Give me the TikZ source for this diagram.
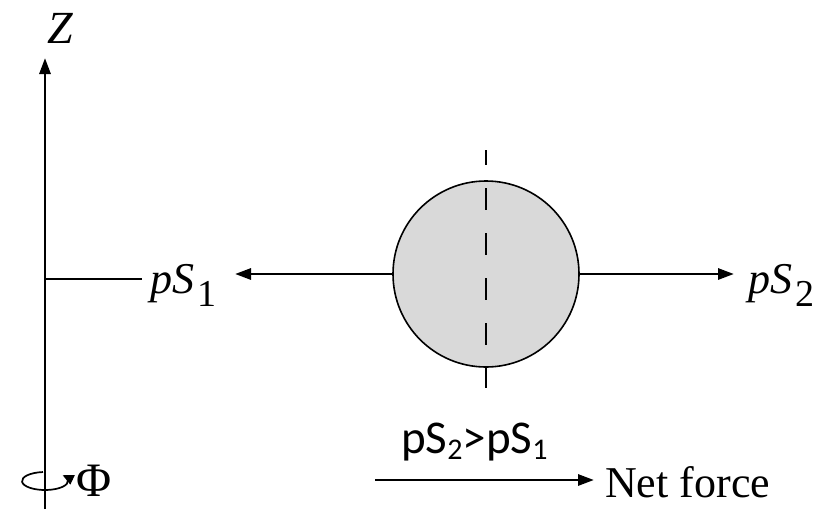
\documentclass[tikz,border=0pt]{standalone}
\usepackage{fontspec}
\setmainfont{Liberation Serif}
\newfontfamily\calib{Carlito}
\usetikzlibrary{arrows.meta}
\tikzset{
  vec/.style={line width=2.9pt,-{Stealth[length=16pt,width=11pt,inset=0pt]}},
  lbl/.style={inner sep=0pt,font=\fontsize{44}{50}\selectfont},
}
\newcommand{\subsc}[1]{\kern3pt{\fontsize{38}{40}\selectfont\raisebox{-13pt}{#1}}}
\newcommand{\csub}[1]{{\fontsize{30}{32}\selectfont\raisebox{-0.22em}{#1}}}
\begin{document}
\begin{tikzpicture}[x=1pt,y=-1pt]
\useasboundingbox (0,0) rectangle (824,509);
% axis
\coordinate (zb) at (45,509);
\coordinate (zt) at (45,58);
\draw[vec] (zb) -- (zt);
\node[lbl,font=\fontsize{46}{50}\selectfont\itshape] (Z) at (60,28) {Z};
% horizontal line to pS1
\coordinate (h0) at (45,279);
\coordinate (h1) at (142,279);
\draw[line width=2.9pt] (h0) -- (h1);
\node[lbl,anchor=base west] (p1) at (150,293) {\textit{pS}\subsc{1}};
% ball
\node[circle,draw,line width=1.6pt,fill=black!15,minimum size=186pt,inner sep=0pt] (ball) at (486,274) {};
\coordinate (dt) at (486,150);
\coordinate (db) at (486,388);
\draw[line width=2.8pt,dash pattern=on 22pt off 23pt,dash phase=7pt] (dt) -- (db);
% force arrows
\coordinate (l1) at (235,274);
\coordinate (r1) at (734,274);
\draw[vec] (ball.west) -- (l1);
\draw[vec] (ball.east) -- (r1);
\node[lbl,anchor=base west] (p2) at (748,293) {\textit{pS}\subsc{2}};
% inequality
\node[inner sep=0pt,anchor=base west,font=\calib\fontsize{47}{50}\selectfont] (ineq) at (401,453) {pS\csub{2}>pS\csub{1}};
% net force
\node[lbl,anchor=base west] (nf) at (605,497) {Net force};
\coordinate (n0) at (375,480);
\draw[vec] (n0) -- ([xshift=-11pt]nf.west |- n0);
% spin
\draw[line width=1.7pt,-{Stealth[length=11pt,width=10pt,inset=0pt]}] (45,481) ++(95:23pt and 9pt) arc[start angle=95,end angle=400,x radius=23pt,y radius=9pt];
\node[lbl,anchor=base west,font=\fontsize{48}{50}\selectfont] (phi) at (76,496) {Φ};
\end{tikzpicture}
\end{document}
